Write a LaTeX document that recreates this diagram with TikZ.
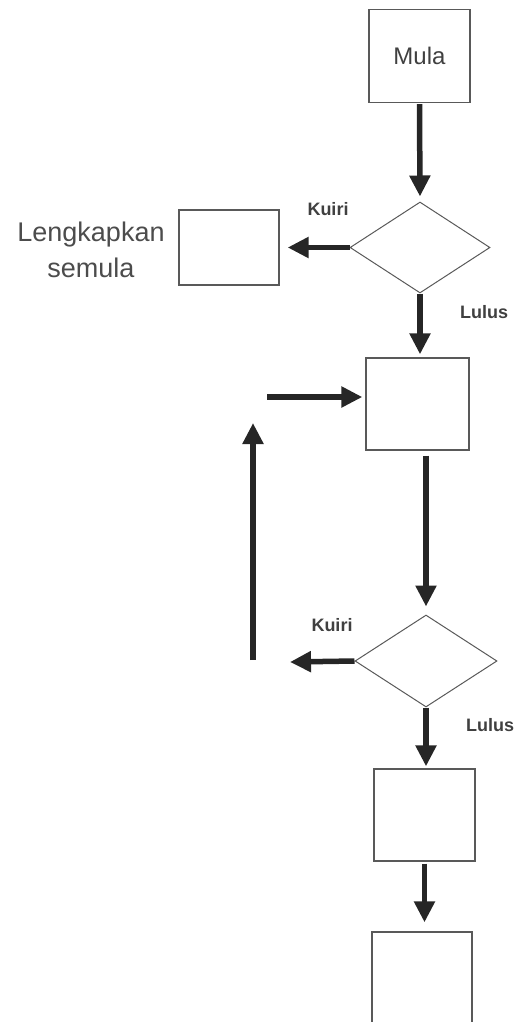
\documentclass[tikz,border=0pt]{standalone}
\usepackage{fontspec}
\setmainfont{Liberation Sans}
\usetikzlibrary{shapes.geometric, arrows.meta}

\tikzset{
  kotak/.style={draw=black!65, line width=1.3pt, minimum width=101pt, minimum height=93pt, inner sep=0pt},
  wajik/.style={diamond, draw=black!65, line width=1pt, minimum width=140pt, minimum height=91pt, inner sep=0pt},
  anak/.style={draw=black!85, line width=5.5pt, -{Triangle[length=21pt,width=20pt]}},
  lbl/.style={font=\fontsize{18}{20}\selectfont\bfseries, text=black!75}
}

\begin{document}
\begin{tikzpicture}[x=1pt, y=-1pt]
  \useasboundingbox (0,0) rectangle (516,1022);
  \clip (0,0) rectangle (516,1022);

  \node[kotak, font=\fontsize{24}{28}\selectfont, text=black!75] (mula) at (419.5,56) {Mula};
  \node[wajik] (dia1) at (420,247.5) {};
  \node[kotak, minimum width=100pt, minimum height=75pt] (lbox) at (229,247.5) {};
  \node[align=center, font=\fontsize{27}{36}\selectfont, text=black!70] (lk) at (91,250) {Lengkapkan\\semula};
  \node[kotak, minimum width=103pt, minimum height=92pt] (box2) at (417.5,404) {};
  \node[wajik, minimum width=142pt, minimum height=92pt] (dia2) at (426,661) {};
  \node[kotak, minimum height=92pt] (box3) at (424.5,815) {};
  \node[kotak, minimum width=100pt, minimum height=116pt] (box4) at (422,990) {};

  \node[lbl] (k1) at (328,209) {Kuiri};
  \node[lbl] (l1) at (484,312) {Lulus};
  \node[lbl] (k2) at (332,625) {Kuiri};
  \node[lbl] (l2) at (490,725) {Lulus};

  \coordinate (masuk) at (267,397);
  \coordinate (kiri2) at (290,662);
  \coordinate (naik1) at (253,660);
  \coordinate (naik2) at (253,423);

  \draw[anak, shorten <=1pt, shorten >=5pt] (mula.south) -- (dia1.north);
  \draw[anak, shorten >=8pt] (dia1.west) -- (lbox.east);
  \draw[anak, shorten >=3pt] (dia1.south) -- (dia1.south |- box2.north);
  \draw[anak, shorten >=3pt] (masuk) -- (masuk -| box2.west);
  \draw[anak, shorten <=5pt, shorten >=8pt] (dia2.north |- box2.south) -- (dia2.north);
  \draw[anak] (dia2.west) -- (kiri2);
  \draw[anak] (naik1) -- (naik2);
  \draw[anak, shorten >=2pt] (dia2.south) -- (dia2.south |- box3.north);
  \draw[anak, shorten <=2pt, shorten >=9pt] (box3.south) -- (box3.south |- box4.north);
\end{tikzpicture}
\end{document}
